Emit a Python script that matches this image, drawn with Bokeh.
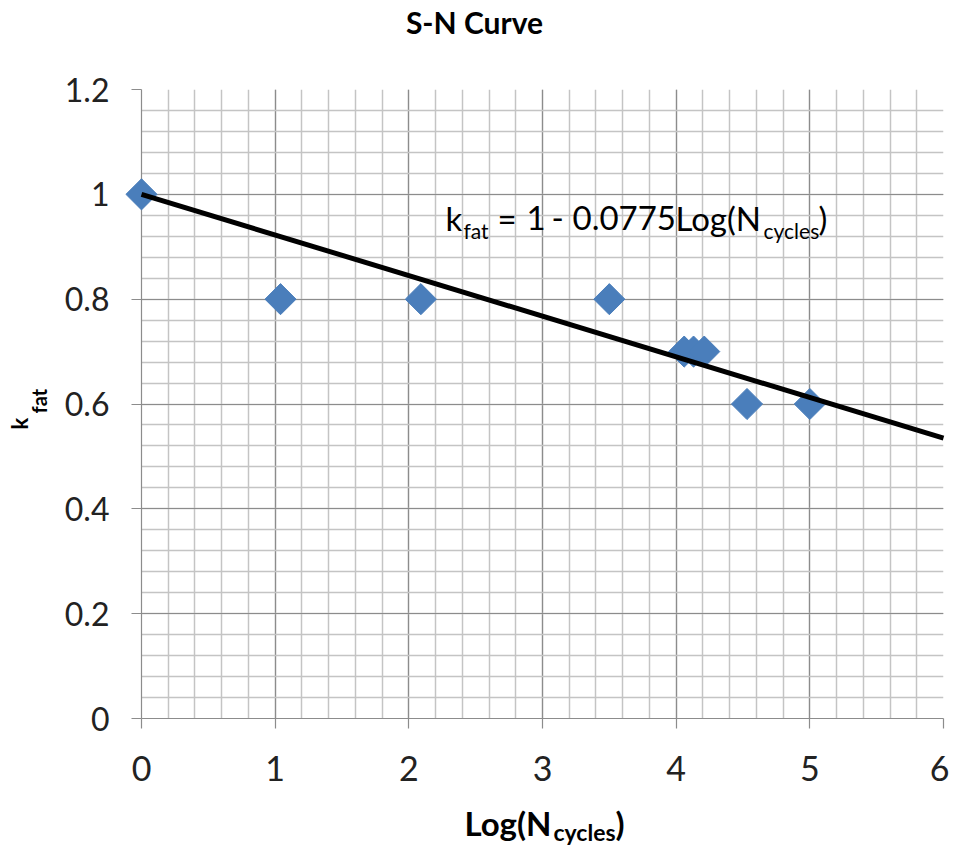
import numpy as np
from bokeh.plotting import figure
from bokeh.models import Range1d, FixedTicker, CustomJSTickFormatter
from bokeh.core.properties import value
from bokeh.embed import file_html
from bokeh.resources import INLINE

# ---- data ----
log_n = [0.0, 1.04, 2.09, 3.5, 4.06, 4.13, 4.21, 4.53, 5.0]
k_fat = [1.0, 0.8, 0.8, 0.8, 0.7, 0.7, 0.7, 0.6, 0.6]
trend_x = [0.0, 6.0]
trend_y = [1.0, 0.535]          # k_fat = 1 - 0.0775 Log(N)
x_ticks = [0, 1, 2, 3, 4, 5, 6]
y_ticks = [0.0, 0.2, 0.4, 0.6, 0.8, 1.0, 1.2]
X0, X1, Y0, Y1 = 0.0, 6.0, 0.0, 1.2

FONT = "Lato"
# frame position on the page (pixels)
FL, FR, FT, FB = 141, 943, 89, 718
W, H = 949, 850

p = figure(width=W, height=H, x_range=Range1d(X0, X1), y_range=Range1d(Y0, Y1),
           output_backend="svg", toolbar_location=None,
           min_border_left=FL, min_border_right=W - FR,
           min_border_top=FT, min_border_bottom=H - FB)
p.outline_line_color = None
p.background_fill_color = "white"
p.border_fill_color = "white"

x_minor = [i * 0.2 for i in range(31)]
y_minor = [i * 0.04 for i in range(31)]
p.xaxis.ticker = FixedTicker(ticks=x_ticks, minor_ticks=x_minor)
p.yaxis.ticker = FixedTicker(ticks=y_ticks, minor_ticks=y_minor)
p.xgrid.ticker = p.xaxis.ticker
p.ygrid.ticker = p.yaxis.ticker
p.yaxis.formatter = CustomJSTickFormatter(code="return tick.toFixed(1).replace(/\\.0$/, '');")
p.xaxis.formatter = CustomJSTickFormatter(code="return tick.toFixed(0);")

for g in (p.xgrid, p.ygrid):
    g.grid_line_color = "#8C8C8C"
    g.grid_line_width = 1.2
    g.minor_grid_line_color = "#C4C4C4"
    g.minor_grid_line_width = 1.5

for ax in (p.xaxis, p.yaxis):
    ax.axis_line_color = "#8C8C8C"
    ax.axis_line_width = 1.2
    ax.major_tick_line_color = "#8C8C8C"
    ax.major_tick_line_width = 1.2
    ax.major_tick_out = 10
    ax.major_tick_in = 0
    ax.minor_tick_line_color = None
    ax.major_label_text_font = FONT
    ax.major_label_text_color = "#222222"

p.xaxis.major_label_text_font_size = "34px"
p.xaxis.major_label_standoff = 27
p.yaxis.major_label_text_font_size = "32px"
p.yaxis.major_label_standoff = 22

pts = p.scatter(log_n, k_fat, marker="square", size=22, angle=np.pi / 4,
                fill_color="#4A7EBB", line_color="#4A7EBB")
pts.level = "overlay"
p.line(trend_x, trend_y, line_color="black", line_width=5, level="overlay")

SX = (FR - FL) / (X1 - X0)
SY = (FB - FT) / (Y1 - Y0)
SHIFT = 0.39   # compensate the glyph baseline offset (in em)


def lab(text, px, py, size, bold=False, rotated=False, align="left", color="black"):
    if rotated:
        px = px - SHIFT * size
    else:
        py = py - SHIFT * size
    r = p.text(x=[X0 + (px - FL) / SX], y=[Y0 + (FB - py) / SY], text=[text],
               text_font=value(FONT), text_font_size=value(f"{size}px"),
               text_font_style="bold" if bold else "normal",
               angle=np.pi / 2 if rotated else 0.0,
               text_align=align, text_baseline="alphabetic",
               text_color=color)
    r.level = "overlay"

# title
lab("S-N Curve", 474, 33, 30, bold=True, align="center")

# equation
lab("k", 445, 230, 33)
lab("fat", 463, 238, 21)
lab("=", 497, 230, 33)
lab("1", 526, 230, 33)
lab("-", 551, 230, 33)
lab("0.0775", 572, 230, 33)
lab("Log(N", 675, 230, 33)
lab("cycles", 763, 238, 21)
lab(")", 818, 230, 33)

# x axis label
lab("Log(N", 464, 835, 33, bold=True)
lab("cycles", 553, 840, 23, bold=True)
lab(")", 615, 835, 33, bold=True)

# y axis label (rotated)
lab("k", 28, 429, 22, bold=True, rotated=True)
lab("fat", 46, 413, 20, bold=True, rotated=True)

open("out.html", "w").write(file_html(p, INLINE))
